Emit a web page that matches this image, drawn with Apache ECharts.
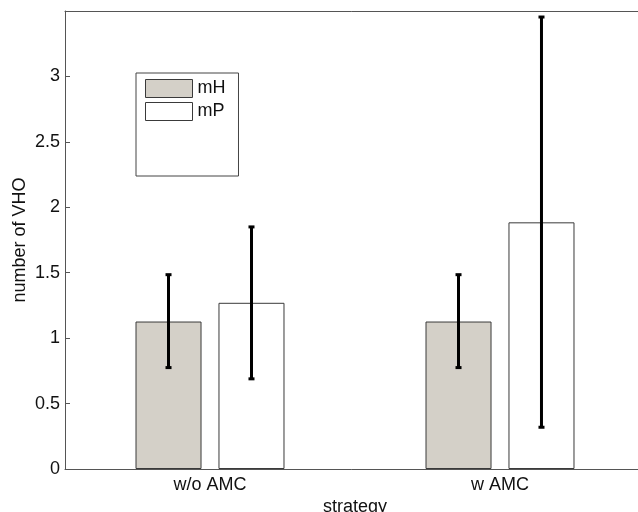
<!DOCTYPE html>
<html>
<head>
<meta charset="utf-8">
<script src="https://cdn.jsdelivr.net/npm/echarts@6/dist/echarts.min.js"></script>
<style>html,body{margin:0;padding:0;background:#fff}#c{width:638px;height:512px}</style>
</head>
<body>
<div id="c"></div>
<script>
const categories = ['w/o AMC', 'w AMC'];
const seriesNames = ['mH', 'mP'];
const mH = [1.127, 1.127];
const mP = [1.27, 1.885];
const mHLow = [0.775, 0.775];
const mHHigh = [1.485, 1.485];
const mPLow = [0.689, 0.319];
const mPHigh = [1.850, 3.454];
const yTicks = [0, 0.5, 1, 1.5, 2, 2.5, 3];

const BAR_W = 0.2276;
const BAR_GAP = 0.257;
const FONT = 'Liberation Sans, Arial, Helvetica, sans-serif';
const AXIS_COLOR = '#555';
const TEXT_COLOR = '#111';

function errSeries(name, side, lows, highs) {
  return {
    type: 'custom',
    name: name,
    z: 10,
    encode: { x: 0, y: [1, 2] },
    data: categories.map((c, i) => [i, lows[i], highs[i]]),
    renderItem: function (params, api) {
      const i = api.value(0);
      const lo = api.coord([i, api.value(1)]);
      const hi = api.coord([i, api.value(2)]);
      const band = api.size([1, 0])[0];
      const bw = band * BAR_W;
      const off = side * (bw + bw * BAR_GAP) / 2;
      const x = lo[0] + off;
      const st = { stroke: '#000', lineWidth: 3 };
      const cap = 3;
      return {
        type: 'group',
        children: [
          { type: 'line', shape: { x1: x, y1: hi[1], x2: x, y2: lo[1] }, style: st },
          { type: 'line', shape: { x1: x - cap, y1: hi[1], x2: x + cap, y2: hi[1] }, style: st },
          { type: 'line', shape: { x1: x - cap, y1: lo[1], x2: x + cap, y2: lo[1] }, style: st }
        ]
      };
    }
  };
}

const chart = echarts.init(document.getElementById('c'), null, { renderer: 'canvas' });
chart.setOption({
  animation: false,
  backgroundColor: '#fff',
  textStyle: { fontFamily: FONT },
  grid: { left: 65, top: 11, bottom: 43, width: 580, containLabel: false, outerBoundsMode: 'none' },
  legend: {
    data: seriesNames,
    orient: 'vertical',
    left: 136,
    top: 73,
    padding: [6, 13, 55, 9],
    itemGap: 4,
    itemWidth: 47,
    itemHeight: 18,
    icon: 'rect',
    itemStyle: { borderWidth: 1, borderColor: '#3a3a3a' },
    borderColor: '#444',
    borderWidth: 1,
    backgroundColor: '#fff',
    textStyle: { fontFamily: FONT, fontSize: 18, color: TEXT_COLOR, padding: [0, 0, 0, 0] }
  },
  xAxis: [{
    type: 'category',
    data: categories,
    position: 'bottom',
    name: 'strategy',
    nameLocation: 'middle',
    nameGap: 29,
    nameMoveOverlap: false,
    nameTextStyle: { fontFamily: FONT, fontSize: 18, color: TEXT_COLOR },
    axisLine: { lineStyle: { color: AXIS_COLOR, width: 1 } },
    axisTick: { inside: true, alignWithLabel: true, length: 5, lineStyle: { color: AXIS_COLOR } },
    axisLabel: { fontFamily: FONT, fontSize: 18, color: TEXT_COLOR, margin: 7 },
    splitLine: { show: false }
  }, {
    type: 'category',
    data: categories,
    position: 'top',
    axisLine: { lineStyle: { color: AXIS_COLOR, width: 1 } },
    axisTick: { inside: true, alignWithLabel: true, length: 5, lineStyle: { color: AXIS_COLOR } },
    axisLabel: { show: false },
    splitLine: { show: false }
  }],
  yAxis: {
    type: 'value',
    min: 0,
    max: 3.5,
    interval: 0.5,
    name: 'number of VHO',
    nameLocation: 'middle',
    nameGap: 36,
    nameMoveOverlap: false,
    nameTextStyle: { fontFamily: FONT, fontSize: 18, color: TEXT_COLOR },
    axisLine: { show: true, lineStyle: { color: AXIS_COLOR, width: 1 } },
    axisTick: { show: true, inside: true, length: 5, lineStyle: { color: AXIS_COLOR } },
    axisLabel: {
      fontFamily: FONT, fontSize: 18, color: TEXT_COLOR, margin: 5,
      formatter: v => (yTicks.indexOf(v) >= 0 ? String(v) : '')
    },
    splitLine: { show: false }
  },
  series: [
    {
      type: 'bar', name: 'mH', data: mH,
      barWidth: (BAR_W * 100) + '%', barGap: (BAR_GAP * 100) + '%',
      itemStyle: { color: '#d4d0c8', borderColor: '#3a3a3a', borderWidth: 1 }
    },
    {
      type: 'bar', name: 'mP', data: mP,
      barWidth: (BAR_W * 100) + '%', barGap: (BAR_GAP * 100) + '%',
      itemStyle: { color: '#ffffff', borderColor: '#3a3a3a', borderWidth: 1 }
    },
    errSeries('mH err', -1, mHLow, mHHigh),
    errSeries('mP err', 1, mPLow, mPHigh)
  ]
});
</script>
</body>
</html>
